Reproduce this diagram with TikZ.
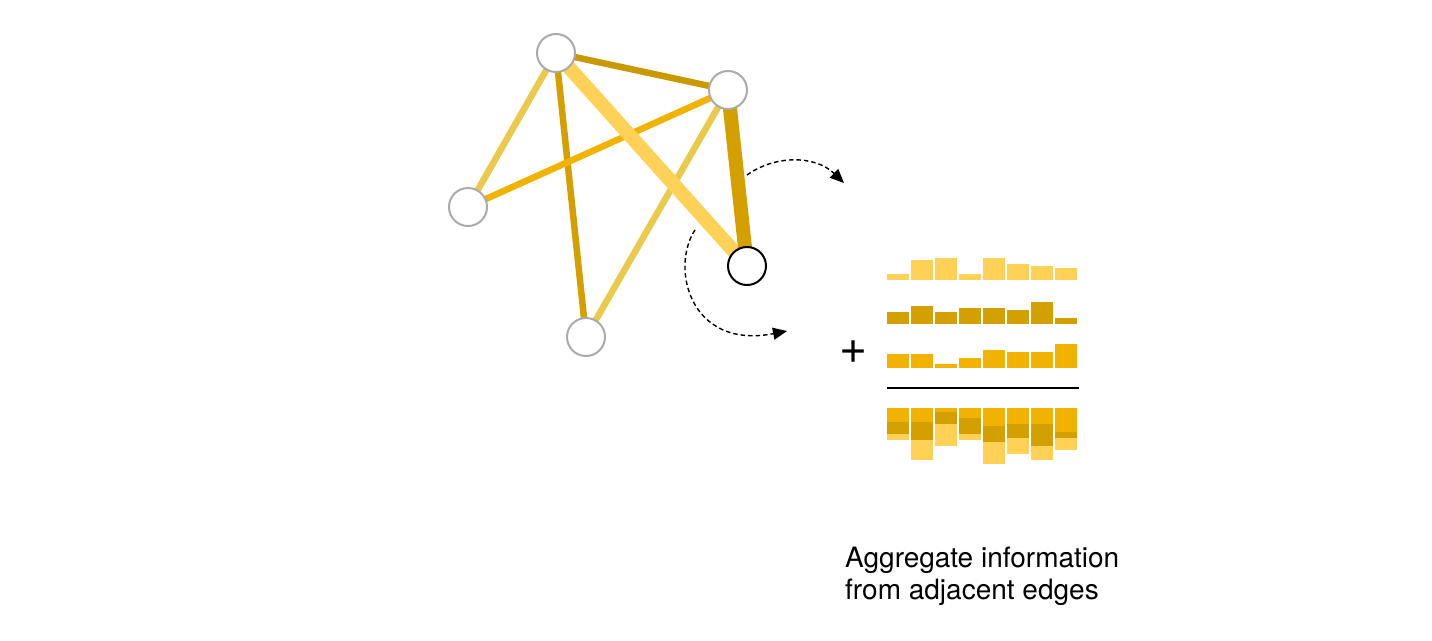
\documentclass[tikz,border=0pt]{standalone}
\usepackage{fontspec}
\setmainfont{TeX Gyre Heros}
\usetikzlibrary{backgrounds,arrows.meta}
\definecolor{lightY}{HTML}{FFD257}
\definecolor{darkY}{HTML}{D4A000}
\definecolor{midY}{HTML}{F2B300}
\definecolor{paleY}{HTML}{EBC94A}
\definecolor{abY}{HTML}{C99A00}
\definecolor{nodeGray}{HTML}{AAAAAA}
\begin{document}
\begin{tikzpicture}[x=1pt,y=-1pt,
  vnode/.style={circle,draw=nodeGray,line width=2pt,fill=white,minimum size=38pt,inner sep=0pt},
  focus/.style={circle,draw=black,line width=2pt,fill=white,minimum size=38pt,inner sep=0pt},
  thin edge/.style={line width=6.5pt},
  thick edge/.style={line width=14pt},
  dashedarc/.style={dash pattern=on 4.5pt off 3pt,line width=1.4pt,-{Triangle[length=14pt,width=12pt]}}]
\useasboundingbox (0,0) rectangle (1432,640);
% nodes
\node[vnode] (A) at (556,53) {};
\node[vnode] (B) at (728,90) {};
\node[vnode] (C) at (468,207) {};
\node[vnode] (D) at (586,337) {};
\node[focus] (E) at (747,266) {};
% edges
\begin{scope}[on background layer]
\draw[thin edge,paleY] (A.center) -- (C.center);
\draw[thin edge,darkY] (A.center) -- (D.center);
\draw[thin edge,abY] (A.center) -- (B.center);
\draw[thin edge,midY] (B.center) -- (C.center);
\draw[thin edge,paleY] (B.center) -- (D.center);
\draw[thick edge,lightY] (A.center) -- (E.center);
\draw[thick edge,darkY] (B.center) -- (E.center);
\end{scope}
% dashed arcs
\coordinate (a1s) at (747,175);
\coordinate (a1e) at (844,183);
\coordinate (a2s) at (695,230);
\coordinate (a2e) at (787,331);
\draw[dashedarc] (a1s) .. controls (775,155) and (815,155) .. (a1e);
\draw[dashedarc] (a2s) .. controls (670,268) and (690,350) .. (a2e);
% bars
\foreach \h [count=\i from 0] in {6,20,22,6,22,16,14,12}
  \fill[lightY] (887+24*\i,280) rectangle ++(22,-\h);
\foreach \h [count=\i from 0] in {12,18,12,16,16,14,22,6}
  \fill[darkY] (887+24*\i,324) rectangle ++(22,-\h);
\foreach \h [count=\i from 0] in {14,14,4,10,18,16,16,24}
  \fill[midY] (887+24*\i,368) rectangle ++(22,-\h);
\draw[line width=2pt] (887,388) coordinate (l1) -- (1079,388) coordinate (l2);
% stacked bars
\foreach \m/\d/\l [count=\i from 0] in {14/12/6,14/18/20,4/12/22,10/16/6,18/16/22,16/14/16,16/22/14,24/6/12}{
  \fill[midY] (887+24*\i,408) rectangle ++(22,\m);
  \fill[darkY] (887+24*\i,408+\m) rectangle ++(22,\d);
  \fill[lightY] (887+24*\i,408+\m+\d) rectangle ++(22,\l);
}
\node[font=\fontsize{48}{48}\selectfont,inner sep=0pt] (plus) at (853.5,352) {+};
\node[anchor=base west,align=left,inner sep=0pt,font=\fontsize{28}{32.5}\selectfont] (txt) at (845,599.5) {Aggregate information\\from adjacent edges};
\end{tikzpicture}
\end{document}
